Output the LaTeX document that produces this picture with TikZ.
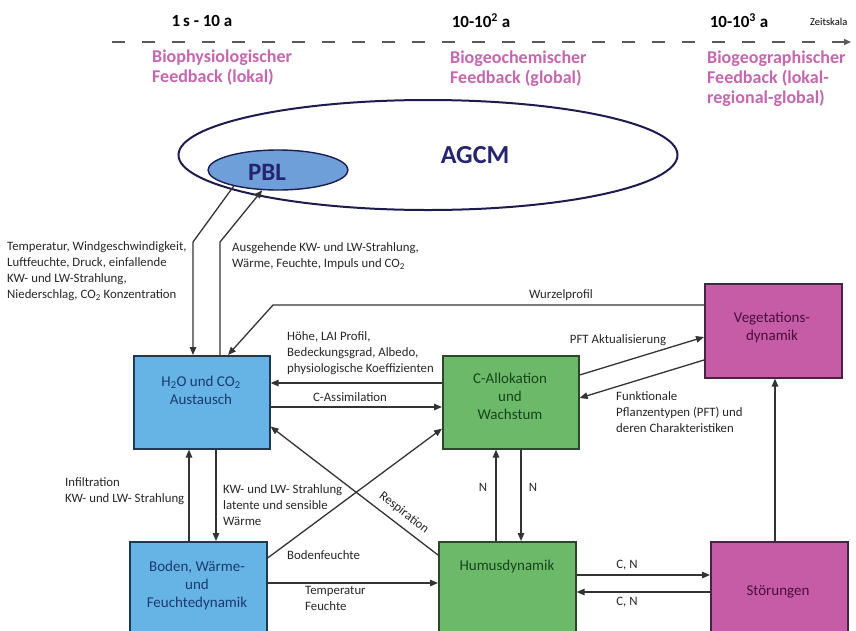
\documentclass[tikz,border=0pt]{standalone}
\usepackage{fontspec}
\setmainfont{Carlito}
\usetikzlibrary{arrows.meta,calc,shapes.geometric}

\definecolor{boxblue}{HTML}{66B3E5}
\definecolor{blueedge}{HTML}{22384F}
\definecolor{bluetext}{HTML}{1B3B6E}
\definecolor{boxgreen}{HTML}{6DB96A}
\definecolor{greenedge}{HTML}{2C472C}
\definecolor{greentext}{HTML}{17451B}
\definecolor{boxpink}{HTML}{C65CA6}
\definecolor{pinkedge}{HTML}{4A2342}
\definecolor{pinktext}{HTML}{4A0D3E}
\definecolor{pinklbl}{HTML}{C566AE}
\definecolor{linegray}{HTML}{333333}
\definecolor{labelgray}{HTML}{262626}
\definecolor{navy}{HTML}{1C1C4E}
\definecolor{agcmtext}{HTML}{25256F}
\definecolor{pblfill}{HTML}{6F9FD9}

\begin{document}
\begin{tikzpicture}[x=1pt,y=-1pt,
  arr/.style={draw=linegray, line width=1.3pt, -{Triangle[length=8pt,width=6.5pt]}},
  box/.style={rectangle, line width=1.6pt, anchor=north west, inner sep=0pt},
  bluebox/.style={box, fill=boxblue, draw=blueedge},
  greenbox/.style={box, fill=boxgreen, draw=greenedge},
  pinkbox/.style={box, fill=boxpink, draw=pinkedge},
  boxtxt/.style={font=\fontsize{15}{18}\selectfont, align=center, inner sep=0pt},
  lbl/.style={font=\fontsize{12.8}{16}\selectfont, text=labelgray, inner sep=0pt, align=left, anchor=west},
  head/.style={font=\bfseries\fontsize{17}{19}\selectfont, text=black, inner sep=0pt},
  fb/.style={font=\bfseries\fontsize{18}{20}\selectfont, text=pinklbl, align=left, anchor=west, inner sep=0pt}
]
\clip (0,0) rectangle (856,630);

% time axis
\coordinate (tstart) at (112,42);
\coordinate (tend) at (851,42);
\draw[draw=black!65, line width=1.5pt, dash pattern=on 13pt off 17pt] (tstart) -- ($(tend)+(-8,0)$);
\draw[draw=black!65, line width=1.5pt, -{Triangle[length=7pt,width=6pt]}] ($(tend)+(-8,0)$) -- (tend);

\node[head] (t1) at (202,21) {1\,s - 10 a};
\node[head] (t2) at (481,21) {10-10\textsuperscript{2} a};
\node[head] (t3) at (739,21) {10-10\textsuperscript{3} a};
\node[font=\fontsize{10.5}{12}\selectfont, anchor=west, inner sep=0pt] (tz) at (810,22) {Zeitskala};

\node[fb] (fb1) at (152,68) {Biophysiologischer\\Feedback (lokal)};
\node[fb] (fb2) at (450,69) {Biogeochemischer\\Feedback (global)};
\node[fb] (fb3) at (707,79) {Biogeographischer\\Feedback (lokal-\\regional-global)};

% atmosphere model
\node[ellipse, draw=navy, line width=2pt, minimum width=499, minimum height=110, inner sep=0pt] (agcm) at (428,155) {};
\node[font=\bfseries\fontsize{26}{28}\selectfont, text=agcmtext] (agcmtext) at (475,155) {AGCM};
\node[ellipse, draw=navy, fill=pblfill, line width=1.4pt, minimum width=140, minimum height=40, inner sep=0pt] (pbl) at (278,170) {};
\node[font=\bfseries\fontsize{25}{27}\selectfont, text=agcmtext] (pbltext) at (267,172) {PBL};

% process boxes
\node[bluebox, minimum width=136, minimum height=93] (h2o) at (133,355) {};
\node[boxtxt, text=bluetext] (h2otext) at (201,390) {H\textsubscript{2}O und CO\textsubscript{2}\\Austausch};

\node[greenbox, minimum width=136, minimum height=93] (calloc) at (442,355) {};
\node[boxtxt, text=greentext] (calloctext) at (510,396) {C-Allokation\\und\\Wachstum};

\node[pinkbox, minimum width=137, minimum height=94] (veg) at (704,283) {};
\node[boxtxt, text=pinktext] (vegtext) at (772,328) {Vegetations-\\dynamik};

\node[bluebox, minimum width=137, minimum height=100] (boden) at (129,541) {};
\node[boxtxt, text=bluetext] (bodentext) at (197,585) {Boden, Wärme-\\und\\Feuchtedynamik};

\node[greenbox, minimum width=137, minimum height=100] (humus) at (438,541) {};
\node[boxtxt, text=greentext] (humustext) at (507,566) {Humusdynamik};

\node[pinkbox, minimum width=137, minimum height=100] (stoer) at (710,541) {};
\node[boxtxt, text=pinktext] (stoertext) at (778,592) {Störungen};

% exchange with the atmosphere
\draw[arr] (pbl.200) -- (193,242) -- ($(h2o.north west)+(60,0)$);
\draw[arr] ($(h2o.north west)+(87,0)$) -- (220,242) -- (pbl.232);
\node[lbl] (atmin) at (7,271) {Temperatur, Windgeschwindigkeit,\\Luftfeuchte, Druck, einfallende\\KW- und LW-Strahlung,\\Niederschlag, CO\textsubscript{2} Konzentration};
\node[lbl] (atmout) at (232,256) {Ausgehende KW- und LW-Strahlung,\\Wärme, Feuchte, Impuls und CO\textsubscript{2}};

% vegetation dynamics and allocation
\draw[arr] ($(veg.north west)+(0,22)$) -- (273,305) -- ($(h2o.north west)+(95,0)$);
\node[lbl, anchor=center] (wurzel) at (561,295) {Wurzelprofil};

\draw[arr] ($(calloc.north west)+(0,28)$) -- ($(h2o.north east)+(0,28)$);
\node[lbl] (hoehe) at (287,353) {Höhe, LAI Profil,\\Bedeckungsgrad, Albedo,\\physiologische Koeffizienten};

\draw[arr] ($(h2o.north east)+(0,52)$) -- ($(calloc.north west)+(0,52)$);
\node[lbl, anchor=center] (cassim) at (350,397) {C-Assimilation};

\draw[arr] ($(calloc.north east)+(0,20)$) -- ($(veg.north west)+(0,54)$);
\node[lbl, anchor=center] (pftakt) at (618,340) {PFT Aktualisierung};

\draw[arr] ($(veg.north west)+(0,77)$) -- ($(calloc.north east)+(0,43)$);
\node[lbl] (pft) at (616,412) {Funktionale\\Pflanzentypen (PFT) und\\deren Charakteristiken};

\draw[arr] ($(stoer.north west)+(65,0)$) -- ($(veg.south west)+(71,0)$);

% soil exchange
\draw[arr] ($(boden.north west)+(60,0)$) -- ($(h2o.south west)+(56,0)$);
\draw[arr] ($(h2o.south west)+(83,0)$) -- ($(boden.north west)+(87,0)$);
\node[lbl] (infil) at (65,491) {Infiltration\\KW- und LW- Strahlung};
\node[lbl] (kwlw) at (223,505) {KW- und LW- Strahlung\\latente und sensible\\Wärme};

\draw[arr] ($(boden.north east)+(0,17)$) -- ($(calloc.south west)+(0,-21)$);
\node[lbl] (bodenf) at (287,555) {Bodenfeuchte};

\draw[arr] ($(humus.north west)+(0,14)$) -- ($(h2o.south east)+(0,-23)$);
\node[font=\fontsize{12.8}{14}\selectfont, text=labelgray, inner sep=0pt, rotate=-37.6] (resp) at (404,513) {Respiration};

\draw[arr] ($(boden.north east)+(0,42)$) -- ($(humus.north west)+(0,42)$);
\node[lbl] (tempf) at (305,598) {Temperatur\\Feuchte};

% nitrogen and disturbance fluxes
\draw[arr] ($(humus.north west)+(58,0)$) -- ($(calloc.south west)+(54,0)$);
\draw[arr] ($(calloc.south west)+(79,0)$) -- ($(humus.north west)+(83,0)$);
\node[lbl, anchor=center] (nup) at (483,487) {N};
\node[lbl, anchor=center] (ndown) at (533,487) {N};

\draw[arr] ($(humus.north east)+(0,34)$) -- ($(stoer.north west)+(0,34)$);
\draw[arr] ($(stoer.north west)+(0,51)$) -- ($(humus.north east)+(0,51)$);
\node[lbl, anchor=center] (cn1) at (627,565) {C, N};
\node[lbl, anchor=center] (cn2) at (627,602) {C, N};
\end{tikzpicture}
\end{document}
